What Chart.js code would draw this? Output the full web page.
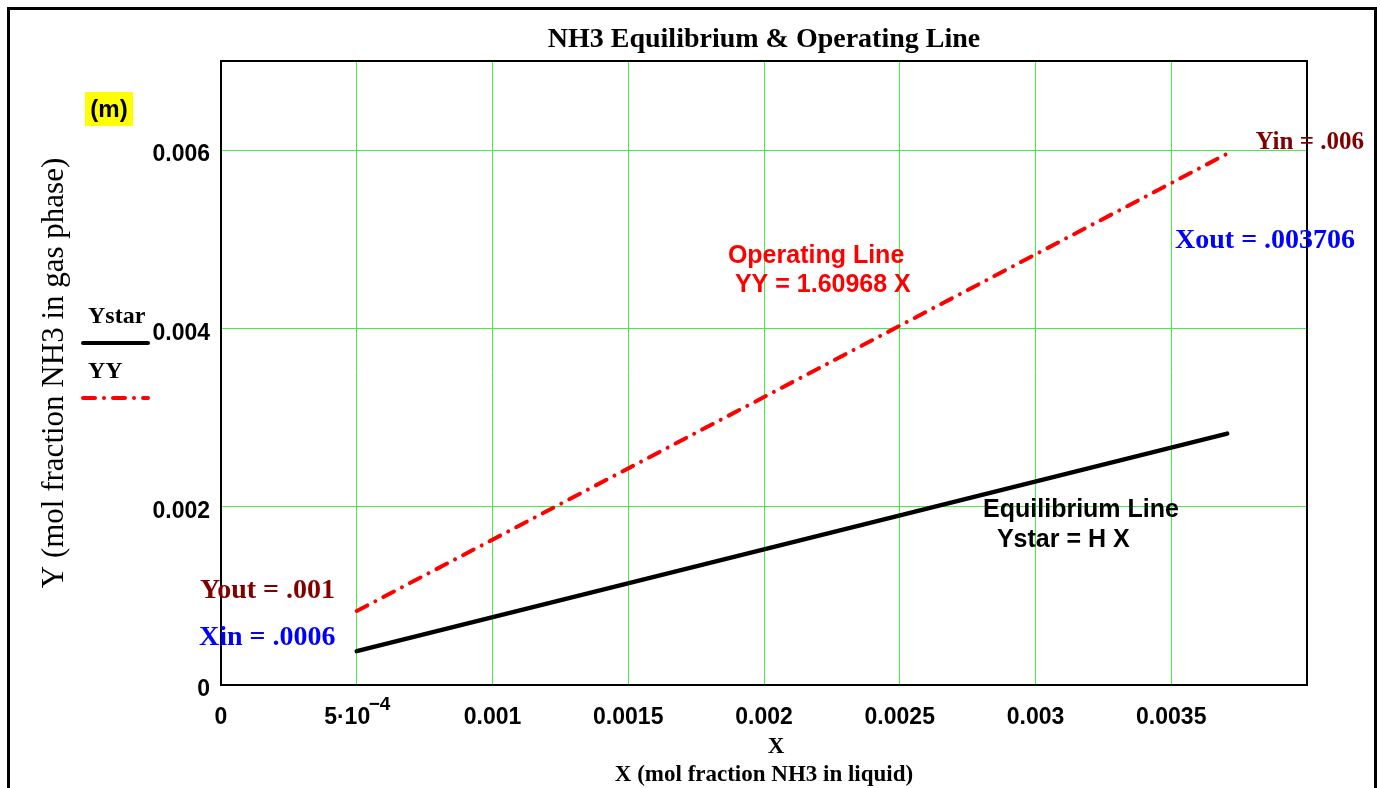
<!DOCTYPE html>
<html lang="en">
<head>
<meta charset="UTF-8">
<title>NH3 Equilibrium &amp; Operating Line</title>
<script src="https://cdn.jsdelivr.net/npm/chart.js"></script>
<style>
    body { margin: 0; background: #fff; }
    #wrap { width: 1380px; height: 788px; }
</style>
</head>
<body>
<div id="wrap"><canvas id="grafico"></canvas></div>
<script>
    // mol fraction NH3 in liquid, column ends (Xin side -> Xout)
    const xLiquido = [0.0005, 0.003706];
    // equilibrium line, Ystar = H X
    const yStar = [0.00038, 0.00282];
    // operating line, YY = 1.60968 X
    const yOper = [0.00083, 0.00596];

    const xTicks = [0, 0.0005, 0.001, 0.0015, 0.002, 0.0025, 0.003, 0.0035];
    // the 5·10 label gets its exponent drawn by the plugin below
    const xTickLabels = ['0', '5·10   ', '0.001', '0.0015', '0.002', '0.0025', '0.003', '0.0035'];
    const yTicks = [0, 0.002, 0.004, 0.006];
    const yTickLabels = ['0', '0.002', '0.004', '0.006'];

    const SANS = '"Liberation Sans", Arial, sans-serif';
    const SERIF = '"Liberation Serif", "Times New Roman", serif';

    // text notes, placed in data units
    const notas = [
        { text: 'Yin = .006', x: 0.00381, y: 0.00608, cor: '#800000', fonte: 'bold 25px ' + SERIF },
        { text: 'Xout = .003706', x: 0.003514, y: 0.00498, cor: '#0000ff', fonte: 'bold 28px ' + SERIF },
        { text: 'Operating Line', x: 0.001867, y: 0.004814, cor: '#ff0000', fonte: 'bold 25px ' + SANS },
        { text: 'YY = 1.60968 X', x: 0.001893, y: 0.004489, cor: '#ff0000', fonte: 'bold 25px ' + SANS },
        { text: 'Equilibrium Line', x: 0.002807, y: 0.001959, cor: '#000000', fonte: 'bold 25px ' + SANS },
        { text: 'Ystar = H X', x: 0.002858, y: 0.001623, cor: '#000000', fonte: 'bold 25px ' + SANS },
        { text: 'Yout = .001', x: -0.0000773, y: 0.001052, cor: '#800000', fonte: 'bold 28px ' + SERIF },
        { text: 'Xin = .0006', x: -0.000081, y: 0.000526, cor: '#0000ff', fonte: 'bold 28px ' + SERIF }
    ];

    const tracoYY = [12, 9, 0.01, 9];

    function rotuloTick(lista, rotulos, valor) {
        for (var i = 0; i < lista.length; i++) {
            if (Math.abs(lista[i] - valor) < 1e-9) return rotulos[i];
        }
        return '';
    }

    const desenhos = {
        id: 'desenhos',
        afterDraw(chart) {
            const ctx = chart.ctx;
            const a = chart.chartArea;
            const sx = chart.scales.x;
            const sy = chart.scales.y;
            ctx.save();

            // outer frame
            ctx.strokeStyle = '#000';
            ctx.lineWidth = 3;
            ctx.strokeRect(8.5, 8.5, 1367, 800);

            // plot box
            ctx.lineWidth = 2;
            ctx.strokeRect(a.left, a.top, a.right - a.left, a.bottom - a.top);

            // title
            ctx.fillStyle = '#000';
            ctx.textAlign = 'center';
            ctx.textBaseline = 'alphabetic';
            ctx.font = 'bold 28px ' + SERIF;
            ctx.fillText('NH3 Equilibrium & Operating Line', (a.left + a.right) / 2, 47);

            // x axis titles
            ctx.font = 'bold 23px ' + SERIF;
            ctx.fillText('X', 776, 753);
            ctx.fillText('X (mol fraction NH3 in liquid)', (a.left + a.right) / 2, 781);

            // y axis title
            ctx.save();
            ctx.translate(63, (a.top + a.bottom) / 2);
            ctx.rotate(-Math.PI / 2);
            ctx.font = '31px ' + SERIF;
            ctx.fillText('Y (mol fraction NH3 in gas phase)', 0, 0);
            ctx.restore();

            // exponent of the 5·10^-4 tick
            ctx.textAlign = 'left';
            ctx.textBaseline = 'middle';
            ctx.font = 'bold 19px ' + SANS;
            ctx.fillText('\u22124', sx.getPixelForValue(0.0005) + 12, 705);

            // (m) tag
            ctx.textAlign = 'center';
            ctx.fillStyle = '#ffff00';
            ctx.fillRect(85, 92, 48, 34);
            ctx.fillStyle = '#000';
            ctx.font = 'bold 24px ' + SANS;
            ctx.fillText('(m)', 109, 110);

            // legend
            const ds = chart.data.datasets;
            ctx.textAlign = 'left';
            ctx.font = 'bold 24px ' + SERIF;
            ctx.lineCap = 'round';
            ds.forEach(function (d, i) {
                const y0 = 317 + i * 55;
                ctx.fillStyle = '#000';
                ctx.fillText(d.label, 88, y0);
                ctx.strokeStyle = d.borderColor;
                ctx.lineWidth = 4;
                ctx.setLineDash(d.borderDash || []);
                ctx.beginPath();
                ctx.moveTo(83, y0 + 26);
                ctx.lineTo(148, y0 + 26);
                ctx.stroke();
            });
            ctx.setLineDash([]);

            // notes
            notas.forEach(function (n) {
                ctx.font = n.fonte;
                ctx.fillStyle = n.cor;
                ctx.fillText(n.text, sx.getPixelForValue(n.x), sy.getPixelForValue(n.y));
            });

            ctx.restore();
        }
    };

    new Chart(document.getElementById('grafico'), {
        type: 'scatter',
        data: {
            datasets: [
                {
                    label: 'Ystar',
                    data: xLiquido.map((x, i) => ({ x: x, y: yStar[i] })),
                    showLine: true,
                    borderColor: '#000000',
                    borderWidth: 4.5,
                    borderCapStyle: 'round',
                    pointRadius: 0
                },
                {
                    label: 'YY',
                    data: xLiquido.map((x, i) => ({ x: x, y: yOper[i] })),
                    showLine: true,
                    borderColor: '#ff0000',
                    borderWidth: 4,
                    borderDash: tracoYY,
                    borderCapStyle: 'round',
                    pointRadius: 0
                }
            ]
        },
        options: {
            responsive: true,
            maintainAspectRatio: false,
            animation: false,
            layout: { padding: { left: 0, right: 73, top: 61, bottom: 0 } },
            plugins: {
                legend: { display: false },
                tooltip: { enabled: false }
            },
            scales: {
                x: {
                    type: 'linear',
                    min: 0,
                    max: 0.004,
                    afterBuildTicks: s => { s.ticks = xTicks.map(v => ({ value: v })); },
                    afterFit: s => { s.height = 103; },
                    ticks: {
                        color: '#000',
                        font: { family: SANS, size: 23, weight: 'bold' },
                        padding: 19,
                        maxRotation: 0,
                        autoSkip: false,
                        callback: v => rotuloTick(xTicks, xTickLabels, v)
                    },
                    grid: { color: '#44ee44', lineWidth: 1, drawTicks: false },
                    border: { display: true, color: '#000', width: 2 }
                },
                y: {
                    type: 'linear',
                    min: 0,
                    max: 0.007,
                    afterBuildTicks: s => { s.ticks = yTicks.map(v => ({ value: v })); },
                    afterFit: s => { s.width = 221; },
                    ticks: {
                        color: '#000',
                        font: { family: SANS, size: 23, weight: 'bold' },
                        padding: 11,
                        labelOffset: 5,
                        autoSkip: false,
                        callback: v => rotuloTick(yTicks, yTickLabels, v)
                    },
                    grid: { color: '#44ee44', lineWidth: 1, drawTicks: false },
                    border: { display: true, color: '#000', width: 2 }
                }
            }
        },
        plugins: [desenhos]
    });
</script>
</body>
</html>
